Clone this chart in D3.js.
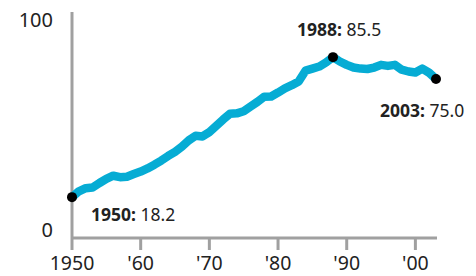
<!DOCTYPE html>
<html>
<head>
<meta charset="utf-8">
<script src="https://cdn.jsdelivr.net/npm/d3@7"></script>
<style>
  body { margin: 0; background: #fff; }
  text { font-family: "Noto Sans", sans-serif; fill: #222; }
</style>
</head>
<body>
<svg class="svg-main" width="476" height="276"></svg>
<script>
const years = d3.range(1950, 2004);
const values = [
  18.2, 21, 22.5, 22.8, 25, 27, 28.5, 27.8, 28, 29.3,
  30.5, 32, 33.8, 35.8, 38, 40, 42.5, 45.5, 47.7, 47.4,
  49.5, 52.5, 55.5, 58.3, 58.5, 59.5, 61.8, 64, 66.5, 66.6,
  68.5, 70.5, 72, 73.8, 79, 80, 81, 83, 85.5, 83.4,
  81.8, 80.5, 80, 79.8, 80.5, 81.8, 81.3, 81.8, 79.5, 78.6,
  78.1, 80, 78, 75.0
];
const xTicks = [1950, 1960, 1970, 1980, 1990, 2000];
const xTickLabels = ["1950", "'60", "'70", "'80", "'90", "'00"];
const yTicks = [0, 100];
const callouts = [
  { year: 1950, value: 18.2 },
  { year: 1988, value: 85.5 },
  { year: 2003, value: 75.0 }
];

const svg = d3.select('.svg-main');
const data = years.map((y, i) => ({ year: y, value: values[i] }));

const x = d3.scaleLinear().domain([1950, 2003]).range([72, 436]);
const y = d3.scaleLinear().domain([0, 100]).range([235, 27]);

const axisColor = "#a0a0a0";
const baseY = 238;

// axes
svg.append("line")
  .attr("x1", x(1950)).attr("x2", x(2003) + 1)
  .attr("y1", baseY).attr("y2", baseY)
  .attr("stroke", axisColor).attr("stroke-width", 3);

svg.append("line")
  .attr("x1", x(1950)).attr("x2", x(1950))
  .attr("y1", 12).attr("y2", baseY)
  .attr("stroke", axisColor).attr("stroke-width", 3);

svg.append("g").selectAll("line")
  .data(xTicks)
  .enter().append("line")
    .attr("x1", d => x(d)).attr("x2", d => x(d))
    .attr("y1", baseY).attr("y2", 250)
    .attr("stroke", axisColor).attr("stroke-width", 3);

svg.append("g").selectAll("text")
  .data(xTicks)
  .enter().append("text")
    .attr("x", d => x(d))
    .attr("y", 270)
    .attr("text-anchor", "middle")
    .style("font-size", "19.5px")
    .text((d, i) => xTickLabels[i]);

svg.append("g").selectAll("text")
  .data(yTicks)
  .enter().append("text")
    .attr("x", 53)
    .attr("y", d => y(d) + (d === 0 ? 2 : 0))
    .attr("text-anchor", "end")
    .style("font-size", "20px")
    .text(d => d);

// line
const line = d3.line()
  .x(d => x(d.year))
  .y(d => y(d.value));

svg.append("path")
  .datum(data)
  .attr("fill", "none")
  .attr("stroke", "#06acd4")
  .attr("stroke-width", 8.5)
  .attr("stroke-linejoin", "round")
  .attr("d", line);

svg.append("g").selectAll("circle")
  .data(callouts)
  .enter().append("circle")
    .attr("cx", d => x(d.year))
    .attr("cy", d => y(d.value))
    .attr("r", 5)
    .attr("fill", "#000");

// callout labels
const labelPos = {
  1950: [91, 221],
  1988: [297, 36],
  2003: [380, 117]
};

const label = svg.append("g").selectAll("text")
  .data(callouts)
  .enter().append("text")
    .attr("x", d => labelPos[d.year][0])
    .attr("y", d => labelPos[d.year][1])
    .style("font-size", "17.5px");

label.append("tspan")
  .style("font-weight", "bold")
  .text(d => d.year + ":");
label.append("tspan")
  .text(d => " " + d.value.toFixed(1));
</script>
</body>
</html>
